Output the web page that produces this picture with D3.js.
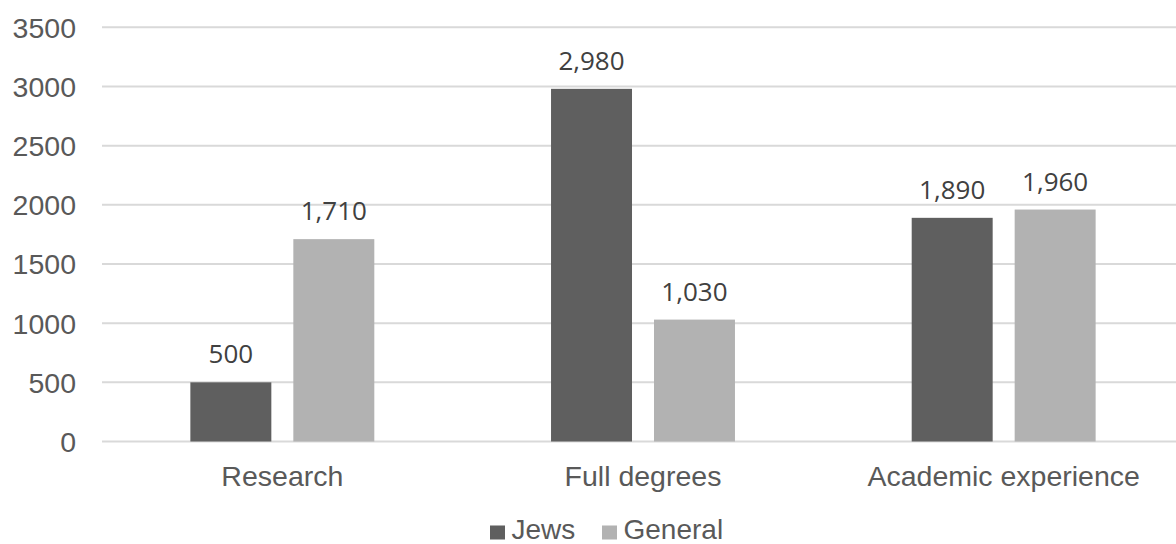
<!DOCTYPE html>
<html>
<head>
<meta charset="utf-8">
<script src="https://cdn.jsdelivr.net/npm/d3@7"></script>
<style>
  html, body { margin: 0; padding: 0; background: #fff; }
  svg { display: block; }
</style>
</head>
<body>
<svg id="chart" width="1176" height="544"></svg>
<script>
// Chart data
const categories = ["Research", "Full degrees", "Academic experience"];
const seriesNames = ["Jews", "General"];
const jewsValues = [500, 2980, 1890];
const generalValues = [1710, 1030, 1960];
const yTicks = [0, 500, 1000, 1500, 2000, 2500, 3000, 3500];

const colors = { "Jews": "#5f5f5f", "General": "#b2b2b2" };
const seriesValues = { "Jews": jewsValues, "General": generalValues };

const rows = categories.map((c, i) => ({
  category: c,
  values: seriesNames.map(s => ({ series: s, value: seriesValues[s][i] }))
}));

const svg = d3.select("#chart");
const plotLeft = 102, plotRight = 1184, plotTop = 27.3, plotBottom = 441.5;

const x0 = d3.scaleBand()
  .domain(categories)
  .range([plotLeft, plotRight])
  .paddingInner(0.49)
  .paddingOuter(0.245);

const x1 = d3.scaleBand()
  .domain(seriesNames)
  .range([0, x0.bandwidth()])
  .paddingInner(0.2136)
  .paddingOuter(0);

const y = d3.scaleLinear()
  .domain([0, 3500])
  .range([plotBottom, plotTop]);

// Horizontal gridlines
svg.append("g")
  .selectAll("line")
  .data(yTicks)
  .join("line")
  .attr("x1", plotLeft)
  .attr("x2", plotRight)
  .attr("y1", d => y(d))
  .attr("y2", d => y(d))
  .attr("stroke", "#d9d9d9")
  .attr("stroke-width", 2);

// Y axis labels
const yAxis = d3.axisLeft(y).tickValues(yTicks).tickSize(0).tickPadding(0).tickFormat(d3.format("d"));
const yG = svg.append("g")
  .attr("transform", "translate(76,0)")
  .call(yAxis);
yG.select(".domain").remove();
yG.selectAll("text")
  .attr("fill", "#595959")
  .attr("font-family", "'Liberation Sans', Arial, sans-serif")
  .attr("font-size", 28.5)
  .attr("dy", "0.35em");

// X axis labels
const xAxis = d3.axisBottom(x0).tickSize(0).tickPadding(0);
const xG = svg.append("g")
  .attr("transform", `translate(0,${plotBottom})`)
  .call(xAxis);
xG.select(".domain").remove();
xG.selectAll("text")
  .attr("fill", "#595959")
  .attr("font-family", "'Liberation Sans', Arial, sans-serif")
  .attr("font-size", 28.5)
  .attr("dy", null)
  .attr("y", 44);

// Bars
const groups = svg.append("g")
  .selectAll("g")
  .data(rows)
  .join("g")
  .attr("transform", d => `translate(${x0(d.category)},0)`);

groups.selectAll("rect")
  .data(d => d.values)
  .join("rect")
  .attr("x", d => x1(d.series))
  .attr("width", x1.bandwidth())
  .attr("y", d => y(d.value))
  .attr("height", d => y(0) - y(d.value))
  .attr("fill", d => colors[d.series]);

// Value labels
groups.selectAll("text.value")
  .data(d => d.values)
  .join("text")
  .attr("class", "value")
  .attr("x", d => x1(d.series) + x1.bandwidth() / 2)
  .attr("y", d => y(d.value) - 19)
  .attr("text-anchor", "middle")
  .attr("fill", "#404040")
  .attr("font-family", "'Open Sans', sans-serif")
  .attr("font-size", 26)
  .text(d => d3.format(",")(d.value));

// Legend
const legend = svg.append("g");
const legendItems = [
  { name: "Jews", x: 490 },
  { name: "General", x: 602 }
];
legendItems.forEach(item => {
  legend.append("rect")
    .attr("x", item.x)
    .attr("y", 525.5)
    .attr("width", 15)
    .attr("height", 14)
    .attr("fill", colors[item.name]);
  legend.append("text")
    .attr("x", item.x + 21.5)
    .attr("y", 539)
    .attr("fill", "#595959")
    .attr("font-family", "'Liberation Sans', Arial, sans-serif")
    .attr("font-size", 28)
    .text(item.name);
});
</script>
</body>
</html>
